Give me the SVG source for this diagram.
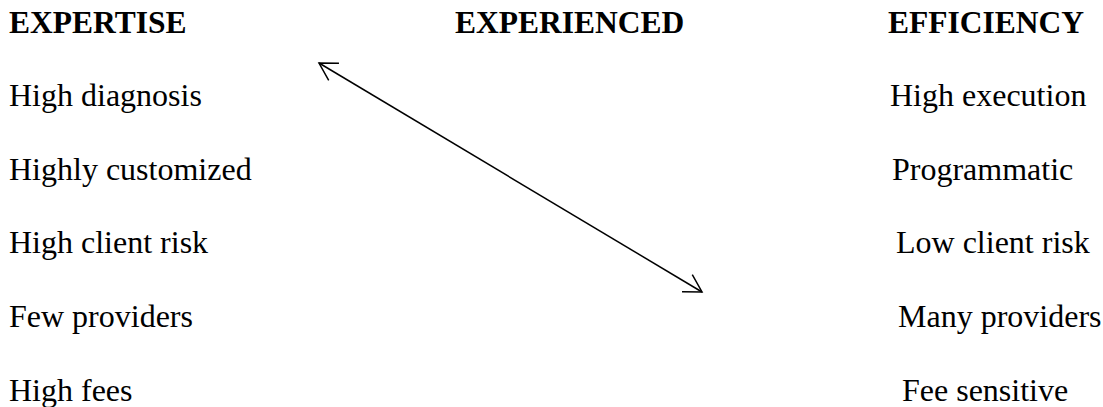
<svg xmlns="http://www.w3.org/2000/svg" width="1103" height="407" viewBox="0 0 1103 407">
<style>
  text { font-family: "Liberation Serif", "Times New Roman", serif; fill: #000; }
  .h { font-size: 31.5px; font-weight: bold; }
  .t { font-size: 32px; }
  .conn { stroke: #000; stroke-width: 1.5; fill: none; }
</style>
<defs>
  <marker id="arr" markerUnits="userSpaceOnUse" viewBox="-20 -12 22 24" refX="0" refY="0" markerWidth="22" markerHeight="24" orient="auto-start-reverse">
    <path d="M-17.3,-10 L0,0 L-17.3,10" fill="none" stroke="#000" stroke-width="1.5"/>
  </marker>
</defs>
<rect width="1103" height="407" fill="#fff"/>
<g id="expertise">
  <text class="h" x="9" y="33">EXPERTISE</text>
  <text class="t" x="9" y="106">High diagnosis</text>
  <text class="t" x="9" y="180">Highly customized</text>
  <text class="t" x="9" y="253">High client risk</text>
  <text class="t" x="9" y="327">Few providers</text>
  <text class="t" x="9" y="401">High fees</text>
</g>
<g id="experienced">
  <text class="h" x="455" y="33">EXPERIENCED</text>
</g>
<g id="efficiency">
  <text class="h" x="888" y="33">EFFICIENCY</text>
  <text class="t" x="890" y="106">High execution</text>
  <text class="t" x="892" y="180">Programmatic</text>
  <text class="t" x="896" y="253">Low client risk</text>
  <text class="t" x="898" y="327">Many providers</text>
  <text class="t" x="902" y="401">Fee sensitive</text>
</g>
<g id="connectors">
  <line class="conn" x1="319" y1="63" x2="702" y2="292" marker-start="url(#arr)" marker-end="url(#arr)"/>
</g>
</svg>
